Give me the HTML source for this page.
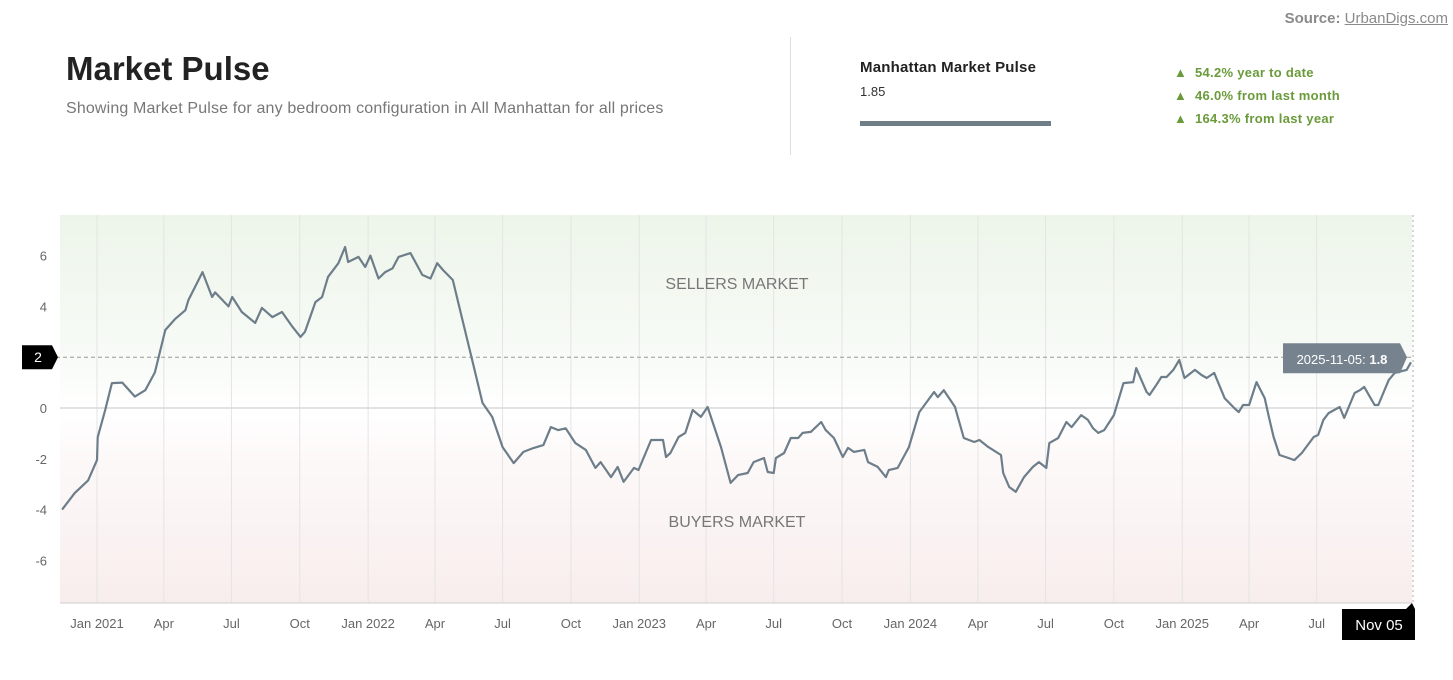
<!DOCTYPE html>
<html><head><meta charset="utf-8"><style>
body{margin:0;width:1453px;height:680px;background:#fff;font-family:"Liberation Sans",sans-serif;position:relative;overflow:hidden}
.a{position:absolute}
</style></head><body>
<div class="a" style="right:5px;top:10px;font-size:15px;color:#8a8a8a;font-weight:bold">Source: <span style="text-decoration:underline;font-weight:normal">UrbanDigs.com</span></div>
<div class="a" style="left:66px;top:50px;font-size:33px;font-weight:bold;color:#222">Market Pulse</div>
<div class="a" style="left:66px;top:100px;font-size:16px;letter-spacing:0.15px;color:#777">Showing Market Pulse for any bedroom configuration in All Manhattan for all prices</div>
<div class="a" style="left:790px;top:37px;width:1px;height:118px;background:#ddd"></div>
<div class="a" style="left:860px;top:59px;font-size:15px;letter-spacing:0.2px;font-weight:bold;color:#222">Manhattan Market Pulse</div>
<div class="a" style="left:860px;top:84px;font-size:13px;color:#333">1.85</div>
<div class="a" style="left:860px;top:121px;width:191px;height:5px;background:#6f7d87"></div>
<div class="a" style="left:1174px;top:65px;font-size:13px;letter-spacing:0.3px;font-weight:bold;color:#6a9a3a">▲&nbsp;&nbsp;54.2% year to date</div>
<div class="a" style="left:1174px;top:88px;font-size:13px;letter-spacing:0.3px;font-weight:bold;color:#6a9a3a">▲&nbsp;&nbsp;46.0% from last month</div>
<div class="a" style="left:1174px;top:111px;font-size:13px;letter-spacing:0.3px;font-weight:bold;color:#6a9a3a">▲&nbsp;&nbsp;164.3% from last year</div>
<svg class="a" style="left:0;top:0" width="1453" height="680" id="chart">
<defs><linearGradient id="bg" x1="0" y1="0" x2="0" y2="1">
<stop offset="0" stop-color="#edf5ea"/><stop offset="0.38" stop-color="#f8fbf7"/><stop offset="0.5" stop-color="#ffffff"/><stop offset="0.62" stop-color="#fdf9f9"/><stop offset="1" stop-color="#f8eded"/></linearGradient></defs>
<rect x="60" y="215" width="1352" height="388" fill="url(#bg)"/>
<g id="grid"></g>
<text x="737" y="289" text-anchor="middle" font-size="16" fill="#777">SELLERS MARKET</text>
<text x="737" y="527" text-anchor="middle" font-size="16" fill="#777">BUYERS MARKET</text>
<g id="marks"></g>
</svg>
<script>
const dayOffsets=[-47,-30,-12,0,1,11,20,34,51,65,78,92,105,119,123,142,155,159,177,182,195,213,222,236,249,263,274,280,294,303,311,325,334,338,352,361,368,379,388,398,406,422,438,449,458,466,479,492,506,519,532,546,561,574,588,601,611,621,631,644,658,671,678,692,701,709,723,729,746,755,762,766,772,783,792,802,813,822,840,853,863,876,884,898,903,911,914,925,934,944,950,961,975,981,992,1004,1011,1019,1033,1038,1051,1062,1066,1078,1093,1107,1127,1132,1140,1155,1167,1181,1188,1200,1217,1220,1228,1237,1248,1260,1268,1278,1282,1294,1305,1312,1325,1334,1341,1348,1356,1369,1382,1395,1399,1413,1417,1426,1433,1440,1449,1457,1464,1478,1487,1494,1504,1518,1531,1537,1543,1551,1561,1572,1578,1584,1592,1604,1612,1622,1638,1644,1651,1658,1673,1679,1693,1700,1706,1720,1725,1739,1747,1763,1769];
const pulseValues=[-4.0,-3.35,-2.85,-2.05,-1.15,-0.08,0.98,1.0,0.45,0.7,1.4,3.07,3.5,3.85,4.25,5.35,4.37,4.55,4.0,4.37,3.78,3.35,3.94,3.58,3.78,3.2,2.8,3.0,4.17,4.37,5.16,5.7,6.34,5.75,5.95,5.55,6.0,5.1,5.35,5.5,5.95,6.1,5.24,5.1,5.7,5.43,5.04,3.46,1.77,0.2,-0.35,-1.54,-2.17,-1.73,-1.57,-1.46,-0.75,-0.87,-0.8,-1.38,-1.65,-2.36,-2.13,-2.72,-2.32,-2.91,-2.36,-2.44,-1.26,-1.26,-1.26,-1.93,-1.77,-1.14,-0.98,-0.08,-0.35,0.04,-1.54,-2.95,-2.64,-2.56,-2.13,-1.97,-2.52,-2.56,-1.97,-1.77,-1.18,-1.18,-0.98,-0.94,-0.55,-0.87,-1.18,-1.93,-1.57,-1.73,-1.65,-2.13,-2.32,-2.72,-2.44,-2.36,-1.54,-0.16,0.63,0.43,0.7,0.05,-1.18,-1.34,-1.26,-1.54,-1.85,-2.56,-3.11,-3.3,-2.72,-2.32,-2.13,-2.36,-1.38,-1.18,-0.55,-0.75,-0.28,-0.47,-0.8,-0.98,-0.87,-0.28,0.98,1.02,1.57,0.63,0.51,0.9,1.22,1.22,1.5,1.89,1.18,1.5,1.3,1.18,1.38,0.39,0,-0.16,0.12,0.12,1.02,0.39,-0.39,-1.14,-1.85,-1.97,-2.05,-1.77,-1.14,-1.06,-0.47,-0.2,0.04,-0.39,0.59,0.7,0.83,0.12,0.12,1.1,1.38,1.5,1.8];
const yTicks=[6,4,2,0,-2,-4,-6];
const xTickLabels=["Jan 2021","Apr","Jul","Oct","Jan 2022","Apr","Jul","Oct","Jan 2023","Apr","Jul","Oct","Jan 2024","Apr","Jul","Oct","Jan 2025","Apr","Jul"];
const xTickDays=[0,90,181,273,365,455,546,638,730,820,911,1003,1095,1186,1277,1369,1461,1551,1642];
const markerValue=2;
const tooltipLabel="2025-11-05";
const tooltipValue=1.8;
const endLabel="Nov 05";
function xs(d){return 97+d*0.7428;}
function ys(v){return 408-v*25.4;}
const NS="http://www.w3.org/2000/svg";
const grid=document.getElementById('grid'),marks=document.getElementById('marks');
function mk(p,tag,at){const e=document.createElementNS(NS,tag);for(const k in at)e.setAttribute(k,at[k]);p.appendChild(e);return e;}
xTickDays.forEach((d,i)=>{
 const l=mk(grid,'line',{x1:xs(d),x2:xs(d),y1:215,y2:603,stroke:'#e4e4e4','stroke-width':1});
 
 
 const t=mk(grid,'text',{x:xs(d),y:628,'text-anchor':'middle','font-size':13,fill:'#666'});
 t.textContent=xTickLabels[i];
 
 
});
yTicks.forEach(v=>{
 const t=mk(grid,'text',{x:47,y:ys(v)+5,'text-anchor':'end','font-size':13,fill:'#666'});
 t.textContent=v;
 
 
});
const z=mk(grid,'line',{x1:60,x2:1412,y1:ys(0),y2:ys(0),stroke:'#d8d8d8','stroke-width':1.5});


const ax=mk(grid,'line',{x1:60,x2:1412,y1:603,y2:603,stroke:'#ccc','stroke-width':1});


const hl=mk(marks,'line',{x1:56,x2:1412,y1:ys(markerValue),y2:ys(markerValue),stroke:'#999','stroke-dasharray':'4 3','stroke-width':1});


const lastX=xs(dayOffsets[dayOffsets.length-1]);
const vl=mk(marks,'line',{x1:lastX+2,x2:lastX+2,y1:215,y2:603,stroke:'#aaa','stroke-dasharray':'2 3','stroke-width':1});


let d='';dayOffsets.forEach((o,i)=>{d+=(i?'L':'M')+xs(o).toFixed(1)+' '+ys(pulseValues[i]).toFixed(1);});
const p=mk(marks,'path',{d:d,fill:'none',stroke:'#6d7e8a','stroke-width':2.2,'stroke-linejoin':'round'});


const yb=ys(markerValue);
const lb=mk(marks,'path',{d:`M22 ${yb-12}H52L58 ${yb}L52 ${yb+12}H22Z`,fill:'#000'});


const lt=mk(marks,'text',{x:38,y:yb+5,'text-anchor':'middle','font-size':14,fill:'#fff'});lt.textContent=markerValue;


const tb=mk(marks,'path',{d:`M1283 ${yb-14}H1400L1407 ${yb}L1400 ${yb+16}H1283Z`,fill:'#76838f'});


const tt=mk(marks,'text',{x:1342,y:yb+7,'text-anchor':'middle','font-size':13,fill:'#fff'});
tt.innerHTML=tooltipLabel+': <tspan font-weight="bold">'+tooltipValue+'</tspan>';


const eb=mk(marks,'path',{d:`M1342 609H1406L1412 603L1415 609V640H1342Z`,fill:'#000'});


const et=mk(marks,'text',{x:1379,y:630,'text-anchor':'middle','font-size':15,fill:'#fff'});et.textContent=endLabel;


</script>
</body></html>
